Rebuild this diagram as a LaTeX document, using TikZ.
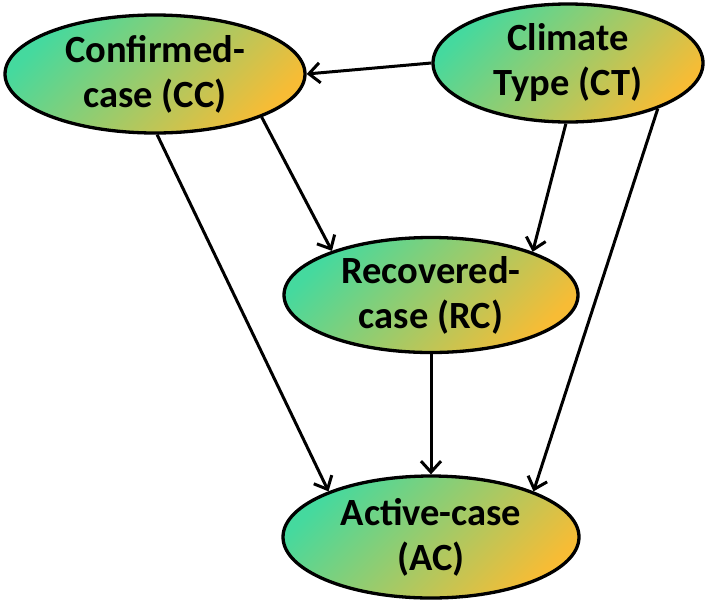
\documentclass[tikz,border=0pt]{standalone}
\usepackage{fontspec}
\setmainfont{Carlito}
\usetikzlibrary{shapes.geometric,arrows.meta}
\definecolor{gstart}{HTML}{45D99E}
\definecolor{gend}{HTML}{F7BC35}
\tikzset{
  bubble/.style={ellipse, draw=black, line width=3.3pt, inner sep=0pt,
    left color=gstart, right color=gend, shading angle=45,
    align=center, font=\bfseries\fontsize{38.5}{45}\selectfont},
  conn/.style={line width=3pt, -{Straight Barb[length=11pt,width=20pt,line width=3pt]}}
}
\begin{document}
\begin{tikzpicture}[x=1pt,y=-1pt]
\useasboundingbox (0,0) rectangle (708,600);
\node[bubble, minimum width=300pt, minimum height=118pt] (CC) at (155,74) {Confirmed-\\case (CC)};
\node[bubble, minimum width=270pt, minimum height=118pt] (CT) at (568,63) {Climate\\Type (CT)};
\node[bubble, minimum width=294pt, minimum height=115pt] (RC) at (431,295) {Recovered-\\case (RC)};
\node[bubble, minimum width=296pt, minimum height=122pt] (AC) at (431,537) {Active-case\\(AC)};
\draw[conn] (CT.west) -- (CC.east);
\draw[conn] (CC.-22) -- (RC.156);
\draw[conn] (CC.-88) -- (AC.156);
\draw[conn] (CT.-92) -- (RC.23);
\draw[conn] (CT.-27) -- (AC.24);
\draw[conn] (RC.south) -- (AC.north);
\end{tikzpicture}
\end{document}
